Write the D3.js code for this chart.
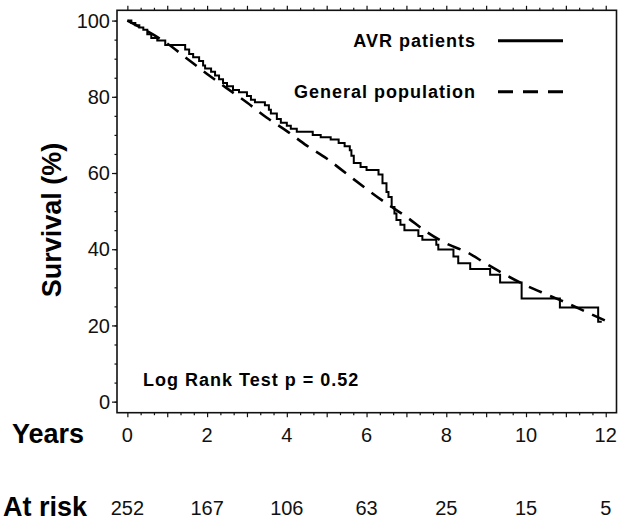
<!DOCTYPE html>
<html>
<head>
<meta charset="utf-8">
<script src="https://cdn.jsdelivr.net/npm/d3@7"></script>
<style>
  body { margin: 0; background: #fff; }
  svg { display: block; font-family: "Liberation Sans", Arial, sans-serif; }
</style>
</head>
<body>
<div id="chart"></div>
<script>
// Kaplan-Meier steps for AVR patients (years, survival %)
const kmYears = [0, 0.1, 0.2, 0.3, 0.4, 0.5, 0.6, 0.75, 0.95, 1.45, 1.55, 1.65, 1.8, 1.9, 1.95,
  2.1, 2.2, 2.3, 2.4, 2.5, 2.65, 2.8, 3.0, 3.1, 3.2, 3.45, 3.55, 3.6, 3.75, 3.85, 4.0, 4.1,
  4.25, 4.65, 4.85, 5.1, 5.3, 5.45, 5.58, 5.62, 5.68, 5.85, 6.0, 6.3, 6.4, 6.5, 6.55, 6.63,
  6.7, 6.75, 6.85, 6.95, 7.3, 7.4, 7.75, 7.8, 8.18, 8.3, 8.6, 9.1, 9.35, 9.89, 10.85, 11.81, 11.9];
const kmSurvival = [100, 99.4, 98.8, 98.2, 97.6, 96.4, 95.4, 94.8, 93.6, 92.4, 91.2, 90.4, 89.4, 88.2, 87.4,
  86.6, 85.6, 84.6, 83.6, 82.8, 81.8, 81.2, 80.2, 79.2, 78.6, 77.8, 76.6, 75.6, 74.2, 73.2, 72.4, 71.6,
  70.8, 70.0, 69.4, 68.8, 67.9, 67.0, 66.0, 64.5, 62.6, 61.6, 60.8, 59.6, 57.3, 55.0, 53.7, 51.1,
  49.4, 47.7, 46.4, 45.0, 43.5, 42.5, 41.2, 39.9, 38.1, 36.3, 34.8, 33.3, 31.3, 27.1, 24.7, 21.0, 21.0];

// expected survival of the matched general population
const popYears = [0, 0.5, 1, 1.5, 2, 2.5, 3, 3.5, 4, 4.5, 5, 5.5, 6, 6.5, 7, 7.5, 8, 8.5, 9, 9.5, 10, 10.5, 11, 11.5, 12];
const popSurvival = [100, 97.2, 94, 90, 86, 82.2, 78.5, 74.5, 71, 67.2, 63.8, 59.8, 55.8, 52, 48.5, 44.6, 41.5, 39.3, 36.2, 33.2, 30.5, 28.2, 26, 23.6, 21.2];

const xTicks = [0, 2, 4, 6, 8, 10, 12];
const yTicks = [0, 20, 40, 60, 80, 100];
const atRisk = [252, 167, 106, 63, 25, 15, 5];

const width = 618, height = 521;
const frame = { left: 117, right: 616.5, top: 10.3, bottom: 412.7 };

const svg = d3.select('#chart').append('svg')
  .attr('width', width)
  .attr('height', height);

const x = d3.scaleLinear().domain([-0.26, 12.27]).range([frame.left, frame.right]);
const y = d3.scaleLinear().domain([-2.9, 102.7]).range([frame.bottom, frame.top]);

// minor / major ticks on top and bottom (every 4 months, major each year)
const minorX = d3.range(0, 12.01, 1 / 3).filter(t => Math.abs(t - Math.round(t)) > 0.01);
const majorX = d3.range(0, 13, 1);

function xTickAxis(axisFn, ticks, size) {
  return axisFn(x).tickValues(ticks).tickSize(size).tickFormat('');
}
[[d3.axisBottom, frame.bottom], [d3.axisTop, frame.top]].forEach(([fn, yy]) => {
  svg.append('g').attr('transform', `translate(0,${yy})`).call(xTickAxis(fn, minorX, 2.5));
  svg.append('g').attr('transform', `translate(0,${yy})`).call(xTickAxis(fn, majorX, 4.5));
});

// y axis ticks
svg.append('g').attr('transform', `translate(${frame.left},0)`)
  .call(d3.axisLeft(y).tickValues(d3.range(0, 101, 5)).tickSize(2.5).tickFormat(''));
svg.append('g').attr('transform', `translate(${frame.left},0)`)
  .call(d3.axisLeft(y).tickValues(yTicks).tickSize(5).tickFormat(''));

svg.selectAll('.domain').remove();
svg.selectAll('.tick line').attr('stroke', '#111').attr('stroke-width', 1.2);

// frame
svg.append('rect')
  .attr('x', frame.left).attr('y', frame.top)
  .attr('width', frame.right - frame.left).attr('height', frame.bottom - frame.top)
  .attr('fill', 'none').attr('stroke', '#111').attr('stroke-width', 1.6);

// tick labels
svg.selectAll('.ylab').data(yTicks).enter().append('text')
  .attr('x', 110).attr('y', d => y(d)).attr('dy', '0.36em')
  .attr('text-anchor', 'end').attr('font-size', 20).attr('fill', '#111')
  .text(d => d);

svg.selectAll('.xlab').data(xTicks).enter().append('text')
  .attr('x', d => x(d)).attr('y', 442)
  .attr('text-anchor', 'middle').attr('font-size', 20).attr('fill', '#111')
  .text(d => d);

svg.selectAll('.risk').data(atRisk).enter().append('text')
  .attr('x', (d, i) => x(xTicks[i])).attr('y', 515)
  .attr('text-anchor', 'middle').attr('font-size', 20).attr('fill', '#111')
  .text(d => d);

// big labels
svg.append('text').attr('x', 12).attr('y', 443)
  .attr('font-size', 27).attr('font-weight', 'bold').text('Years');
svg.append('text').attr('x', 3).attr('y', 516)
  .attr('font-size', 27).attr('font-weight', 'bold').text('At risk');
svg.append('text')
  .attr('transform', 'translate(61,220) rotate(-90)')
  .attr('text-anchor', 'middle')
  .attr('font-size', 27).attr('font-weight', 'bold').text('Survival (%)');

// curves
const kmLine = d3.line().x(d => x(d[0])).y(d => y(d[1])).curve(d3.curveStepAfter);
svg.append('path')
  .datum(d3.zip(kmYears, kmSurvival))
  .attr('d', kmLine)
  .attr('fill', 'none').attr('stroke', '#000').attr('stroke-width', 2);

const popLine = d3.line().x(d => x(d[0])).y(d => y(d[1])).curve(d3.curveMonotoneX);
svg.append('path')
  .datum(d3.zip(popYears, popSurvival))
  .attr('d', popLine)
  .attr('fill', 'none').attr('stroke', '#000').attr('stroke-width', 2.6)
  .attr('stroke-dasharray', '14,9');

// legend
const legend = [
  { label: 'AVR patients', y: 40.7, dash: null },
  { label: 'General population', y: 91.7, dash: '15,10' }
];
legend.forEach(l => {
  svg.append('text').attr('x', 476).attr('y', l.y + 6)
    .attr('text-anchor', 'end').attr('font-size', 18).attr('font-weight', 'bold')
    .attr('letter-spacing', 1)
    .text(l.label);
  svg.append('line')
    .attr('x1', 498).attr('x2', 563).attr('y1', l.y).attr('y2', l.y)
    .attr('stroke', '#000').attr('stroke-width', 3)
    .attr('stroke-dasharray', l.dash);
});

svg.append('text').attr('x', 143).attr('y', 386)
  .attr('font-size', 18).attr('font-weight', 'bold').attr('letter-spacing', 1)
  .text('Log Rank Test p = 0.52');
</script>
</body>
</html>
